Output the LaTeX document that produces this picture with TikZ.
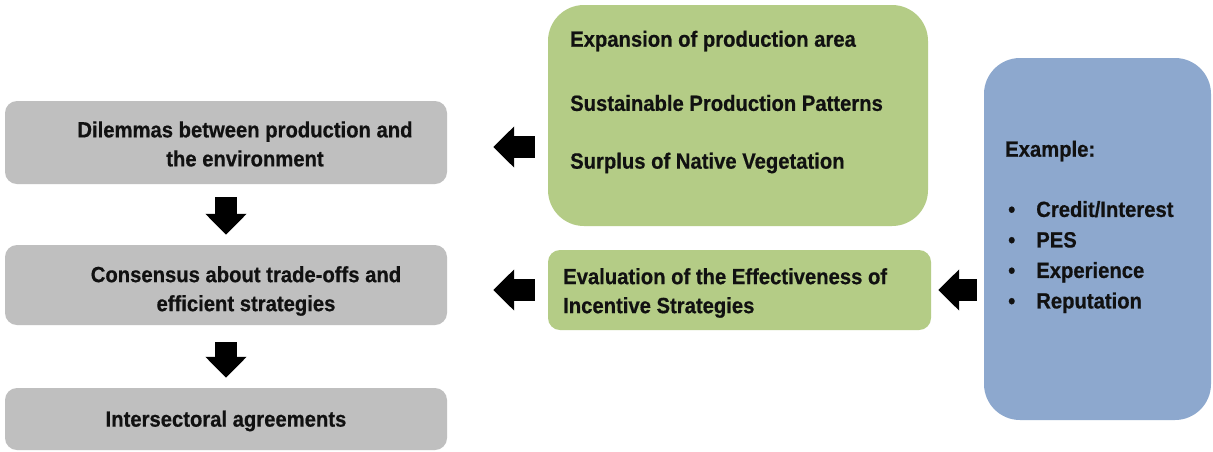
\documentclass[tikz,border=0pt]{standalone}
\usepackage{fontspec}
\setmainfont{Liberation Sans}[FakeStretch=0.92, BoldFeatures={FakeBold=0.6}]
\usetikzlibrary{arrows.meta}
\definecolor{boxgray}{RGB}{191,191,191}
\definecolor{boxgreen}{RGB}{180,204,134}
\definecolor{boxblue}{RGB}{141,168,206}
\definecolor{txt}{RGB}{17,17,17}
\tikzset{
  graybox/.style={fill=boxgray, draw=none, rounded corners=12pt, minimum width=442pt, inner sep=0pt},
  greenbox/.style={fill=boxgreen, draw=none, inner sep=0pt},
  bluebox/.style={fill=boxblue, draw=none, rounded corners=36pt, minimum width=227pt, minimum height=362pt, inner sep=0pt},
  lbl/.style={text=txt, font=\fontsize{22}{29}\selectfont\bfseries, inner sep=0pt},
  blockarrow/.style={draw=black, line width=22pt, -{Triangle[width=40pt,length=21pt]}},
}
\begin{document}
\begin{tikzpicture}[x=1pt,y=-1pt]
\useasboundingbox[fill=white] (0,0) rectangle (1213,451);
% left column
\node[graybox, minimum height=83pt] (g1) at (226,142.5) {};
\node[graybox, minimum height=80pt] (g2) at (226,285) {};
\node[graybox, minimum height=62pt] (g3) at (226,419) {};
\node[lbl, align=center] (t1) at (245,144) {Dilemmas between production and\\the environment};
\node[lbl, align=center] (t2) at (246,291) {Consensus about trade-offs and\\efficient strategies};
\node[lbl] (t3) at (226,421) {Intersectoral agreements};
% green boxes
\node[greenbox, rounded corners=36pt, minimum width=380pt, minimum height=221pt] (e1) at (738,115.5) {};
\node[greenbox, rounded corners=12pt, minimum width=383pt, minimum height=80pt] (e2) at (739.5,290) {};
\node[lbl, anchor=west] (s1) at (570,41) {Expansion of production area};
\node[lbl, anchor=west] (s2) at (570,103) {Sustainable Production Patterns};
\node[lbl, anchor=west] (s3) at (570,163) {Surplus of Native Vegetation};
\node[lbl, anchor=west, align=left] (s4) at (563,293) {Evaluation of the Effectiveness of\\Incentive Strategies};
% blue box
\node[bluebox] (b) at (1097.5,239) {};
\node[lbl, anchor=west] (ex) at (1005,151) {Example:};
\node[lbl, anchor=west, align=left, font=\fontsize{22}{30.5}\selectfont\bfseries] (bl) at (1008,257) {\textbullet\hspace{21pt}Credit/Interest\\
\textbullet\hspace{21pt}PES\\
\textbullet\hspace{21pt}Experience\\
\textbullet\hspace{21pt}Reputation};
% arrows
\coordinate (d1s) at ([yshift=-13pt]g1.south);
\coordinate (d1e) at ([yshift=10pt]g2.north);
\coordinate (d2s) at ([yshift=-17pt]g2.south);
\coordinate (d2e) at ([yshift=10pt]g3.north);
\draw[blockarrow] (d1s) -- (d1e);
\draw[blockarrow] (d2s) -- (d2e);
\coordinate (l1s) at ([xshift=-13pt]e1.west |- 0,147);
\coordinate (l1e) at ([xshift=46pt]g1.east |- 0,147);
\draw[blockarrow] (l1s) -- (l1e);
\coordinate (l2s) at ([xshift=-13pt]e2.west |- 0,290);
\coordinate (l2e) at ([xshift=46pt]g2.east |- 0,290);
\draw[blockarrow] (l2s) -- (l2e);
\coordinate (l3s) at ([xshift=-7pt]b.west |- 0,290);
\coordinate (l3e) at ([xshift=7pt]e2.east |- 0,290);
\draw[blockarrow] (l3s) -- (l3e);
\end{tikzpicture}
\end{document}
